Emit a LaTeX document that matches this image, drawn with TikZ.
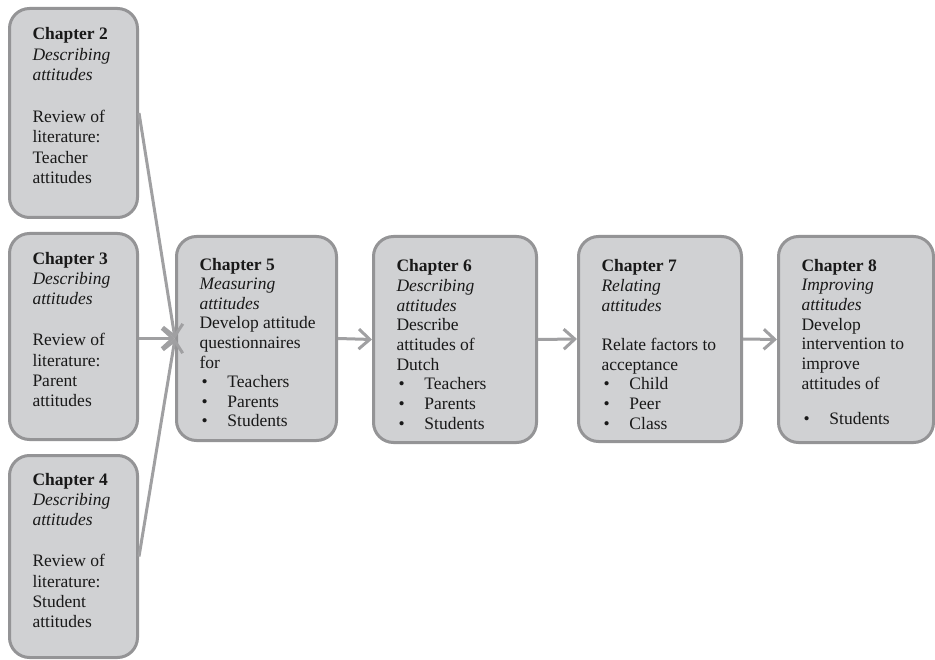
\documentclass[tikz,border=0pt]{standalone}
\usepackage{fontspec}
\setmainfont{Liberation Serif}
\usetikzlibrary{arrows.meta}
\definecolor{boxfill}{RGB}{208,209,211}
\definecolor{boxline}{RGB}{148,148,150}
\definecolor{arr}{RGB}{160,160,162}
\definecolor{txt}{RGB}{25,25,25}
\newcommand\cbx[5]{\parbox[c][#2][t]{#1}{\fontsize{17.5}{#4}\selectfont\vspace*{#3}\raggedright\leftskip=23pt\relax #5\par}}
\newcommand\bl[1]{\makebox[28pt][l]{\hspace{2pt}\textbullet}#1}
\tikzset{
  chap/.style={draw=boxline, fill=boxfill, line width=3pt, rounded corners=20pt,
    inner sep=0pt, anchor=north west, text=txt},
  conn/.style={draw=arr, line width=3pt, -{Straight Barb[length=11pt,width=20pt]}}
}
\begin{document}
\begin{tikzpicture}[x=1pt,y=-1pt]
\useasboundingbox (0,0) rectangle (935,660);
\fill[white] (0,0) rectangle (935,660);
\node[chap] (c2) at (8,7) {\cbx{128pt}{209pt}{19pt}{20.6pt}{\textbf{Chapter 2}\\\textit{Describing}\\\textit{attitudes}\\[20.6pt]Review of\\literature:\\Teacher\\attitudes}};
\node[chap] (c3) at (8,232) {\cbx{128pt}{206pt}{18.5pt}{20.4pt}{\textbf{Chapter 3}\\\textit{Describing}\\\textit{attitudes}\\[20.4pt]Review of\\literature:\\Parent\\attitudes}};
\node[chap] (c4) at (8,454) {\cbx{128pt}{202pt}{17.5pt}{20.4pt}{\textbf{Chapter 4}\\\textit{Describing}\\\textit{attitudes}\\[20.4pt]Review of\\literature:\\Student\\attitudes}};
\node[chap] (c5) at (175,235) {\cbx{160pt}{204pt}{21.5pt}{19.6pt}{\textbf{Chapter 5}\\\textit{Measuring}\\\textit{attitudes}\\Develop attitude\\questionnaires\\for\\\bl{Teachers}\\\bl{Parents}\\\bl{Students}}};
\node[chap] (c6) at (372,235) {\cbx{163pt}{206pt}{23pt}{19.7pt}{\textbf{Chapter 6}\\\textit{Describing}\\\textit{attitudes}\\Describe\\attitudes of\\Dutch\\\bl{Teachers}\\\bl{Parents}\\\bl{Students}}};
\node[chap] (c7) at (577,235) {\cbx{163pt}{205pt}{23pt}{19.7pt}{\textbf{Chapter 7}\\\textit{Relating}\\\textit{attitudes}\\[19.7pt]Relate factors to\\acceptance\\\bl{Child}\\\bl{Peer}\\\bl{Class}}};
\node[chap] (c8) at (777,235) {\cbx{155pt}{206pt}{22.5pt}{19.7pt}{\textbf{Chapter 8}\\\textit{Improving}\\\textit{attitudes}\\Develop\\intervention to\\improve\\attitudes of\\[15pt]\bl{Students}}};
\draw[conn] (c2.east) -- (c5.west);
\draw[conn] (c3.east |- c5.west) -- (c5.west);
\draw[conn] (c4.east) -- (c5.west);
\draw[conn] (c5.east) -- (c6.west);
\draw[conn] (c6.east) -- (c7.west);
\draw[conn] (c7.east) -- (c8.west);
\end{tikzpicture}
\end{document}
